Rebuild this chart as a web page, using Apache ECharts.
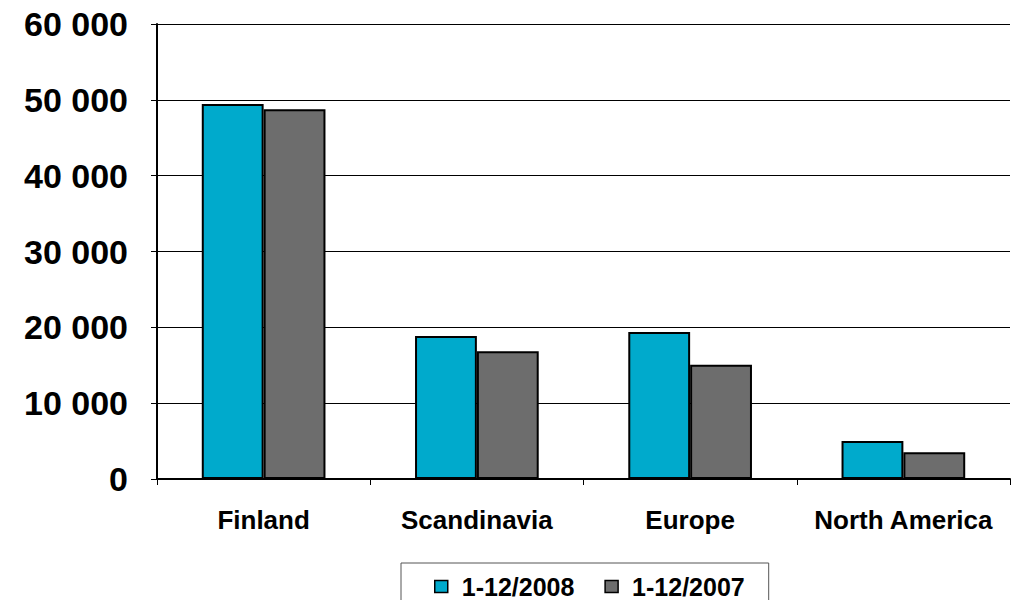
<!DOCTYPE html>
<html>
<head>
<meta charset="utf-8">
<style>
  html, body { margin: 0; padding: 0; background: #fff; }
  #chart { width: 1011px; height: 600px; }
</style>
<script src="https://cdn.jsdelivr.net/npm/echarts@6/dist/echarts.min.js"></script>
</head>
<body>
<div id="chart"></div>
<script>
var regions = ['Finland', 'Scandinavia', 'Europe', 'North America'];
var seriesNames = ['1-12/2008', '1-12/2007'];
var values2008 = [49450, 18860, 19390, 5010];
var values2007 = [48750, 16840, 15070, 3520];
var colors = ['#00aacc', '#6d6d6d'];

(function () {
  var font = 'Liberation Sans, Arial, sans-serif';
  var chart = echarts.init(document.getElementById('chart'), null, { renderer: 'svg' });

  function fmt(v) {
    return String(v).replace(/\B(?=(\d{3})+(?!\d))/g, ' ');
  }

  function bar(name, data, color) {
    return {
      name: name,
      type: 'bar',
      data: data,
      barGap: '0%',
      barCategoryGap: '42%',
      itemStyle: { color: color, borderColor: '#000', borderWidth: 2 }
    };
  }

  chart.setOption({
    animation: false,
    grid: { left: 157, right: 1, top: 24, bottom: 121 },
    legend: {
      data: seriesNames,
      top: 563,
      left: 401,
      icon: 'rect',
      itemWidth: 13,
      itemHeight: 12,
      itemGap: 30,
      padding: [11, 24, 20, 33],
      borderColor: '#555',
      borderWidth: 1,
      textStyle: { fontFamily: font, fontSize: 25, fontWeight: 'bold', color: '#000', padding: [0, 0, 0, 9] },
      itemStyle: { borderColor: '#000', borderWidth: 1.5 }
    },
    xAxis: {
      type: 'category',
      data: regions,
      axisLine: { lineStyle: { color: '#000', width: 2 } },
      axisTick: { show: true, length: 6, lineStyle: { color: '#000' } },
      axisLabel: {
        interval: 0, hideOverlap: false,
        fontFamily: font, fontSize: 26, fontWeight: 'bold', color: '#000', margin: 28
      }
    },
    yAxis: {
      type: 'value',
      min: 0,
      max: 60000,
      interval: 10000,
      axisLine: { show: true, lineStyle: { color: '#000', width: 2 } },
      axisTick: { show: true, length: 6, lineStyle: { color: '#000' } },
      splitLine: { lineStyle: { color: '#000', width: 1 } },
      axisLabel: {
        fontFamily: font, fontSize: 34, fontWeight: 'bold', color: '#000', margin: 29,
        formatter: fmt
      }
    },
    series: [
      bar(seriesNames[0], values2008, colors[0]),
      bar(seriesNames[1], values2007, colors[1])
    ]
  });
})();
</script>
</body>
</html>
